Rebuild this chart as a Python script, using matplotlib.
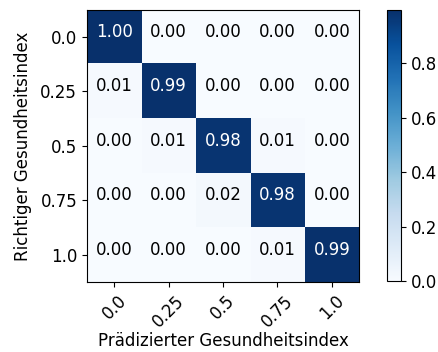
import matplotlib

matplotlib.use("Agg")
import matplotlib.pyplot as plt
import numpy as np

classes = ["0.0", "0.25", "0.5", "0.75", "1.0"]
row_0 = [0.997, 0.0, 0.0, 0.0, 0.0]
row_1 = [0.01, 0.99, 0.0, 0.0, 0.0]
row_2 = [0.0, 0.01, 0.98, 0.01, 0.0]
row_3 = [0.0, 0.0, 0.02, 0.98, 0.0]
row_4 = [0.0, 0.0, 0.0, 0.01, 0.99]

cm = np.array([row_0, row_1, row_2, row_3, row_4])

plt.rcParams["font.size"] = 12

fig = plt.figure(figsize=(4.39, 3.52), dpi=100)
ax = fig.add_axes([0.198, 0.199, 0.620, 0.773])
cax = fig.add_axes([0.8815, 0.202, 0.032, 0.770])

im = ax.imshow(cm, interpolation="nearest", cmap=plt.cm.Blues)
fig.colorbar(im, cax=cax)

ticks = np.arange(len(classes))
ax.set_xticks(ticks)
ax.set_xticklabels(classes, rotation=45)
ax.set_yticks(ticks)
ax.set_yticklabels(classes)

thresh = cm.max() / 2.0
for i in range(cm.shape[0]):
    for j in range(cm.shape[1]):
        ax.text(j, i, f"{cm[i, j]:.2f}", horizontalalignment="center",
                color="white" if cm[i, j] > thresh else "black")

ax.set_ylabel("Richtiger Gesundheitsindex", labelpad=6)
ax.set_xlabel("Prädizierter Gesundheitsindex", labelpad=1)

fig.savefig("out.png", dpi=100)
